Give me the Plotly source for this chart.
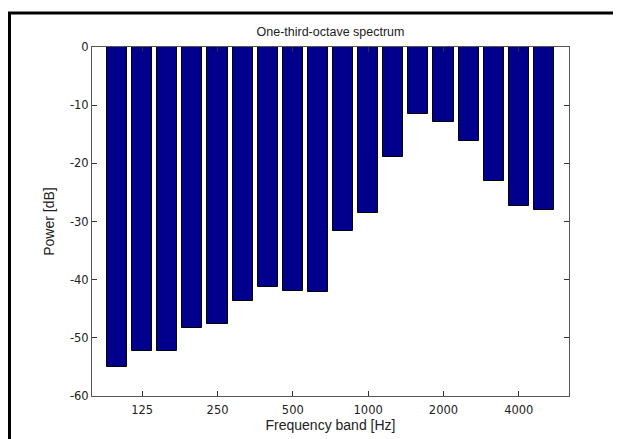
import plotly.graph_objects as go

bands = ["100", "125", "160", "200", "250", "315", "400", "500", "630", "800",
         "1000", "1250", "1600", "2000", "2500", "3150", "4000", "5000"]
power_db = [-55.0, -52.3, -52.3, -48.3, -47.6, -43.7, -41.3, -41.9, -42.1, -31.6,
            -28.5, -18.9, -11.5, -12.9, -16.2, -23.0, -27.3, -28.0]
tick_labels = ["125", "250", "500", "1000", "2000", "4000"]
y_ticks = [0, -10, -20, -30, -40, -50, -60]

x_pos = list(range(1, len(bands) + 1))
tick_vals = [x_pos[bands.index(t)] for t in tick_labels]

# the page body adds an 8px offset; size the figure to fill the rest of the window
W, H = 613, 431
L, T = 84, 39
PW, PH = 477, 349

font = dict(family="Liberation Sans, Arial, sans-serif", size=12, color="#222222")
tick_font = dict(family="DejaVu Sans, sans-serif", size=11.5, color="#222222")

fig = go.Figure(go.Bar(
    x=x_pos, y=power_db, width=0.8,
    marker=dict(color="#00008c", line=dict(color="#000000", width=1)),
    hovertext=bands,
))

fig.update_layout(
    width=W, height=H,
    margin=dict(l=L, r=W - L - PW, t=T, b=H - T - PH),
    paper_bgcolor="white", plot_bgcolor="white",
    font=font, showlegend=False,
    title=dict(text="One-third-octave spectrum", x=(L + PW / 2) / W, xanchor="center",
               y=1 - 24 / H, yanchor="middle", font=dict(size=12.5, color="#222222")),
    bargap=0,
    shapes=[dict(type="rect", xref="paper", yref="paper",
                 x0=(1.5 - L) / PW, x1=(640 - L) / PW,
                 y0=(T + PH - 460) / PH, y1=(T + PH - 5) / PH,
                 line=dict(color="black", width=3), layer="below")],
)

fig.update_xaxes(range=[0, 19], tickmode="array", tickvals=tick_vals, ticktext=tick_labels,
                 ticks="inside", ticklen=5, tickcolor="#333333", showline=True,
                 linecolor="#555555", linewidth=1, mirror="ticks", showgrid=False,
                 zeroline=False, title=dict(text="Frequency band [Hz]", standoff=0),
                 tickfont=tick_font, ticklabelstandoff=3)
fig.update_yaxes(range=[-60, 0], tickmode="array", tickvals=y_ticks,
                 ticktext=[str(v) for v in y_ticks],
                 ticks="inside", ticklen=5, tickcolor="#333333", showline=True,
                 linecolor="#555555", linewidth=1, mirror="ticks", showgrid=False,
                 zeroline=False, title=dict(text="Power [dB]", standoff=12),
                 tickfont=tick_font)

fig.write_html("out.html")
